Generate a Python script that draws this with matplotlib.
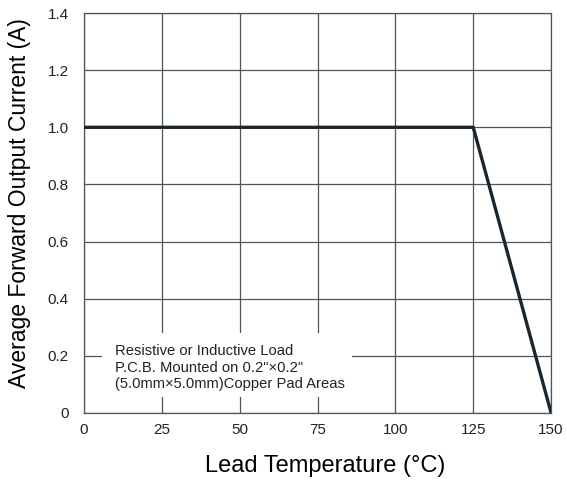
import matplotlib
matplotlib.use('Agg')
import matplotlib.pyplot as plt
import matplotlib.patches as mpatches

# ── 数据 ──
temp = [0, 125, 150]
current = [1.0, 1.0, 0.0]
x_ticks = [0, 25, 50, 75, 100, 125, 150]
y_ticks = [0, 0.2, 0.4, 0.6, 0.8, 1.0, 1.2, 1.4]
y_labels = ['0', '0.2', '0.4', '0.6', '0.8', '1.0', '1.2', '1.4']
note = ('Resistive or Inductive Load\n'
        'P.C.B. Mounted on 0.2"\u00d70.2"\n'
        '(5.0mm\u00d75.0mm)Copper Pad Areas')

plt.rcParams['font.family'] = ['Liberation Sans', 'DejaVu Sans']

fig = plt.figure(figsize=(5.67, 4.83), dpi=100)
ax = fig.add_axes([0.148, 0.145, 0.824, 0.828])

grid_c = '#4d545b'
ax.plot(temp, current, color='#18262e', linewidth=2.4, zorder=3)

ax.set_xlim(0, 150)
ax.set_ylim(0, 1.4)
ax.set_xticks(x_ticks)
ax.set_yticks(y_ticks)
ax.set_yticklabels(y_labels)
ax.tick_params(length=0, labelsize=11, colors='#222222')
ax.tick_params(axis='x', pad=7)
ax.tick_params(axis='y', pad=11)
ax.grid(True, color=grid_c, linewidth=0.9)
for s in ax.spines.values():
    s.set_color(grid_c)
    s.set_linewidth(0.9)

# 白底说明框
ax.add_patch(mpatches.Rectangle((0.0385, 0.04), 0.536, 0.16, transform=ax.transAxes,
                                facecolor='white', edgecolor='none', zorder=4))
ax.text(0.066, 0.172, note, transform=ax.transAxes, fontsize=10.6, color='#222222',
        va='top', ha='left', linespacing=1.22, zorder=5)

ax.set_xlabel('Lead Temperature (\u00b0C)', fontsize=17)
ax.set_ylabel('Average Forward Output Current (A)', fontsize=16.5)
ax.xaxis.set_label_coords(0.517, -0.105)
ax.yaxis.set_label_coords(-0.114, 0.525)

plt.savefig('out.png', dpi=100)
